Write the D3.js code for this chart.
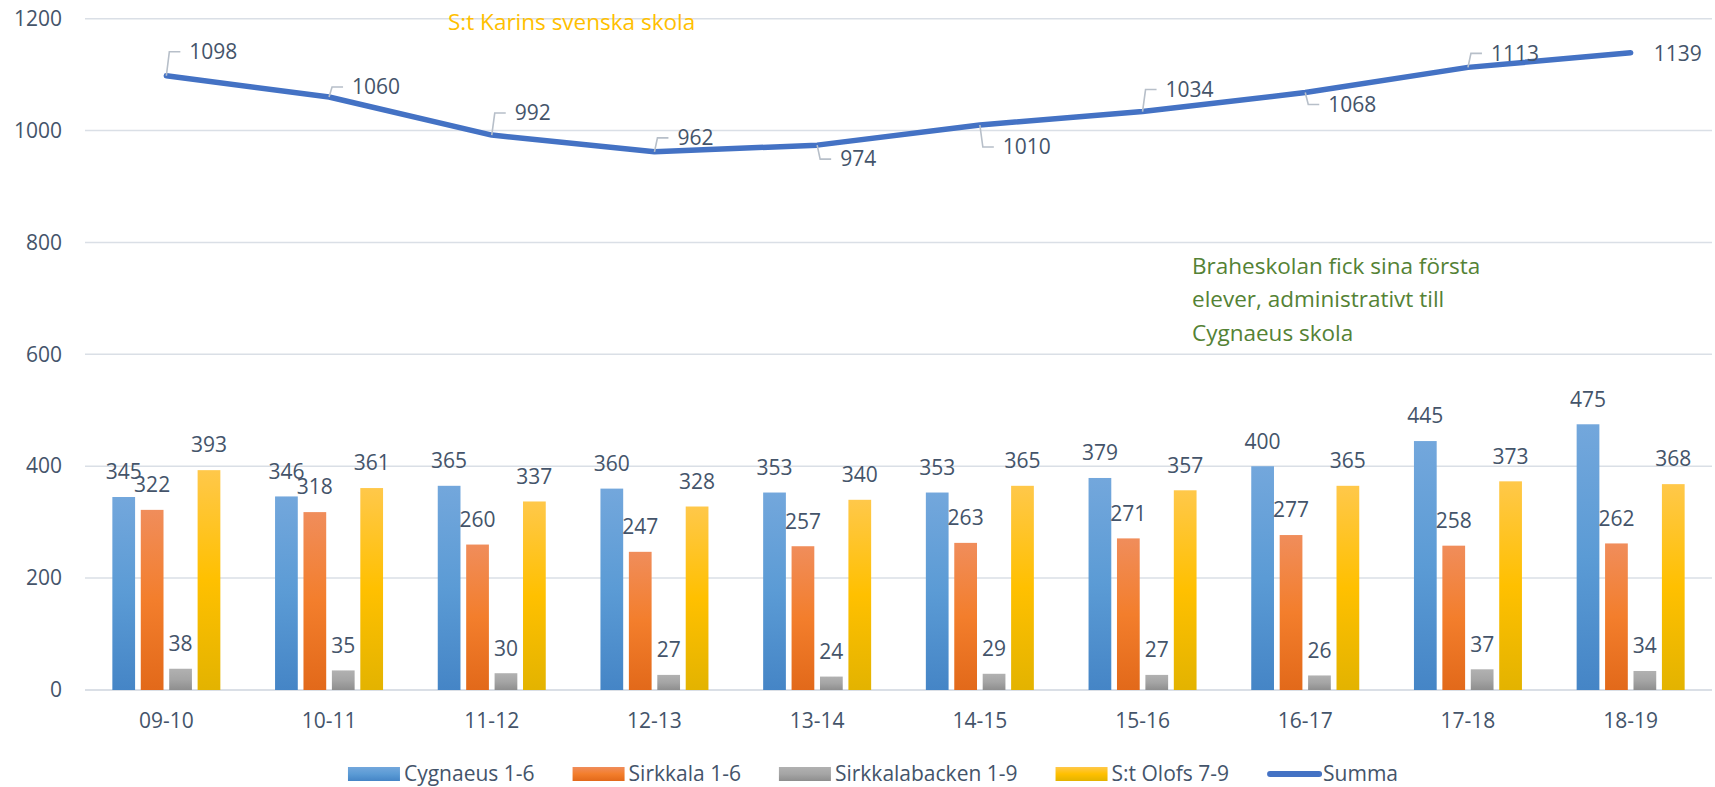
<!DOCTYPE html>
<html lang="sv">
  <head>
    <meta charset="UTF-8" />
    <title>Elevantal per skola</title>
    <script src="https://d3js.org/d3.v7.min.js"></script>
    <style>
      body {
        margin: 0;
        background: #fff;
      }
      svg {
        display: block;
        font-family: "Open Sans", "Noto Sans", sans-serif;
      }
      .lbl {
        fill: #44546a;
        font-size: 21px;
      }
    </style>
  </head>
  <body>
    <script>
      // data
      const categories = ["09-10", "10-11", "11-12", "12-13", "13-14", "14-15", "15-16", "16-17", "17-18", "18-19"];
      const cygnaeus = [345, 346, 365, 360, 353, 353, 379, 400, 445, 475];
      const sirkkala = [322, 318, 260, 247, 257, 263, 271, 277, 258, 262];
      const sirkkalabacken = [38, 35, 30, 27, 24, 29, 27, 26, 37, 34];
      const stOlofs = [393, 361, 337, 328, 340, 365, 357, 365, 373, 368];
      const summa = [1098, 1060, 992, 962, 974, 1010, 1034, 1068, 1113, 1139];
      const seriesNames = ["Cygnaeus 1-6", "Sirkkala 1-6", "Sirkkalabacken 1-9", "S:t Olofs 7-9"];
      const lineName = "Summa";
      const yTicks = [0, 200, 400, 600, 800, 1000, 1200];

      // vertical offset of each Summa label from its point (placement only)
      const lineLabelDy = [-24, -10, -22, -14, 14, 22, -22, 12, -14, 1];
      const lineLabelLeader = [true, true, true, true, true, true, true, true, true, false];

      const barSeries = [cygnaeus, sirkkala, sirkkalabacken, stOlofs];
      const gradStops = [
        ["#73a7dc", "#5b9bd5", "#4585c6"],
        ["#f08d5b", "#f37e2c", "#e2691a"],
        ["#b1b1b1", "#a5a5a5", "#8e8e8e"],
        ["#ffc84a", "#ffc000", "#e3b300"],
      ];

      const W = 1715, H = 787;
      const svg = d3.select("body").append("svg").attr("width", W).attr("height", H);

      const defs = svg.append("defs");
      gradStops.forEach((s, i) => {
        const g = defs.append("linearGradient").attr("id", "g" + i)
          .attr("x1", 0).attr("y1", 0).attr("x2", 0).attr("y2", 1);
        g.append("stop").attr("offset", "0%").attr("stop-color", s[0]);
        g.append("stop").attr("offset", "50%").attr("stop-color", s[1]);
        g.append("stop").attr("offset", "100%").attr("stop-color", s[2]);
      });

      const x0 = d3.scaleBand().domain(categories).range([85, 1712]);
      const groupW = 108;
      const x1 = d3.scaleBand().domain(d3.range(4)).range([0, groupW]).paddingInner(0.2);
      const y = d3.scaleLinear().domain([0, 1200]).range([690, 18.7]);

      // gridlines
      svg.append("g").selectAll("line").data(yTicks).join("line")
        .attr("x1", 85).attr("x2", 1712)
        .attr("y1", d => y(d)).attr("y2", d => y(d))
        .attr("stroke", "#dadfe6").attr("stroke-width", d => d === 0 ? 2 : 1.5);

      function styleAxisText(sel) {
        sel.attr("fill", null)
          .style("fill", "#44546a")
          .style("font-size", "21px")
          .style("font-family", "'Open Sans', 'Noto Sans', sans-serif");
      }

      // y axis labels
      const yAxis = svg.append("g").attr("transform", "translate(62,0)")
        .call(d3.axisLeft(y).tickValues(yTicks).tickFormat(d3.format("d")).tickSize(0).tickPadding(0));
      yAxis.select(".domain").remove();
      yAxis.selectAll("text").call(styleAxisText);

      // x axis labels
      const xAxis = svg.append("g").attr("transform", "translate(0,690)")
        .call(d3.axisBottom(x0).tickSize(0).tickPadding(0));
      xAxis.select(".domain").remove();
      xAxis.selectAll("text").call(styleAxisText)
        .attr("dy", "0.35em").attr("y", 31);

      // bars
      const groups = svg.append("g").selectAll("g").data(categories).join("g")
        .attr("transform", d => `translate(${x0(d) + (x0.bandwidth() - groupW) / 2},0)`);

      groups.each(function (c, ci) {
        const g = d3.select(this);
        barSeries.forEach((vals, si) => {
          const v = vals[ci];
          g.append("rect")
            .attr("x", x1(si)).attr("width", x1.bandwidth())
            .attr("y", y(v)).attr("height", y(0) - y(v))
            .attr("fill", `url(#g${si})`);
          g.append("text").attr("class", "lbl")
            .attr("x", x1(si) + x1.bandwidth() / 2)
            .attr("y", y(v) - 25)
            .attr("dy", "0.35em")
            .attr("text-anchor", "middle")
            .text(v);
        });
      });

      // Summa line
      const cx = (d, i) => x0(categories[i]) + x0.bandwidth() / 2;
      const line = d3.line().x(cx).y(d => y(d));
      svg.append("path").datum(summa)
        .attr("d", line)
        .attr("fill", "none").attr("stroke", "#4472c4").attr("stroke-width", 5.5)
        .attr("stroke-linejoin", "round").attr("stroke-linecap", "round");

      // Summa labels with leader lines
      summa.forEach((v, i) => {
        const px = cx(v, i), py = y(v);
        const ty = py + lineLabelDy[i];
        if (lineLabelLeader[i]) {
          svg.append("path")
            .attr("d", `M${px},${py} L${px + 3},${ty} L${px + 14},${ty}`)
            .attr("fill", "none").attr("stroke", "#b7bfc9").attr("stroke-width", 1.6);
        }
        svg.append("text").attr("class", "lbl")
          .attr("x", px + 23).attr("y", ty).attr("dy", "0.35em")
          .text(v);
      });

      // annotations
      svg.append("text").attr("x", 448).attr("y", 30)
        .attr("fill", "#ffc000").attr("font-size", 22.5)
        .text("S:t Karins svenska skola");

      const note = ["Braheskolan fick sina första", "elever, administrativt till", "Cygnaeus skola"];
      svg.append("text").attr("fill", "#548235").attr("font-size", 22.5)
        .selectAll("tspan").data(note).join("tspan")
        .attr("x", 1192).attr("y", (d, i) => 274 + i * 33.3)
        .text(d => d);

      // legend
      const legend = svg.append("g");
      const items = seriesNames.map((n, i) => ({ name: n, i })).concat([{ name: lineName, i: -1 }]);
      let lx = 0;
      items.forEach(it => {
        const g = legend.append("g").attr("transform", `translate(${lx},0)`);
        if (it.i >= 0) {
          g.append("rect").attr("x", 0).attr("y", -7).attr("width", 52).attr("height", 14)
            .attr("fill", `url(#g${it.i})`);
        } else {
          g.append("line").attr("x1", 3).attr("x2", 52).attr("y1", 0).attr("y2", 0)
            .attr("stroke", "#4472c4").attr("stroke-width", 6).attr("stroke-linecap", "round");
        }
        const t = g.append("text").attr("class", "lbl").attr("x", 56).attr("dy", "0.35em").text(it.name);
        lx += 56 + t.node().getComputedTextLength() + 38;
      });
      const legendW = lx - 38;
      legend.attr("transform", `translate(${873 - legendW / 2},774)`);
    </script>
  </body>
</html>
